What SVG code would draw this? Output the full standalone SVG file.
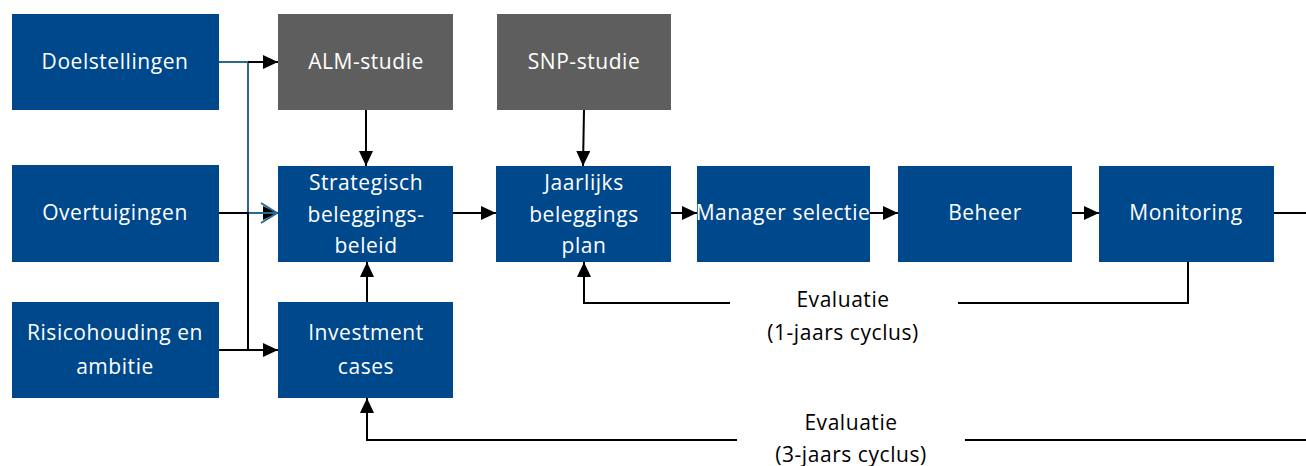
<svg xmlns="http://www.w3.org/2000/svg" width="1306" height="466" viewBox="0 0 1306 466">
<style>
.blue{fill:#00488c}
.gray{fill:#5e5e5e}
.t{font-family:"Open Sans","DejaVu Sans",sans-serif;font-size:21px;letter-spacing:0.55px;fill:#ffffff;text-anchor:middle}
.e{font-family:"Open Sans","DejaVu Sans",sans-serif;font-size:21px;letter-spacing:0.55px;fill:#000000;text-anchor:middle}
.c{fill:none;stroke:#000;stroke-width:2}
.ct{fill:none;stroke:#2b6a8a;stroke-width:2}
</style>
<defs>
<marker id="ah" markerUnits="userSpaceOnUse" markerWidth="16" markerHeight="16" refX="15" refY="7" orient="auto">
<path d="M0,0 L15,7 L0,14 z" fill="#000"/>
</marker>
<marker id="ao" markerUnits="userSpaceOnUse" markerWidth="20" markerHeight="24" refX="17" refY="11" orient="auto">
<path d="M1,1 L17,11 L1,21" fill="none" stroke="#2b6a8a" stroke-width="2"/>
</marker>
</defs>
<g id="connectors">
<path class="ct" d="M219,62 H248 V213 H277" />
<path class="c" d="M248,62 H278" marker-end="url(#ah)"/>
<path class="c" d="M219,213 H278" marker-end="url(#ah)"/>
<path class="ct" d="M249,213 H277" marker-end="url(#ao)"/>
<path class="c" d="M248,214 V350" />
<path class="c" d="M219,350 H278" marker-end="url(#ah)"/>
<path class="c" d="M366,110 V166" marker-end="url(#ah)"/>
<path class="c" d="M584,110 L583,166" marker-end="url(#ah)"/>
<path class="c" d="M367,302 V262" marker-end="url(#ah)"/>
<path class="c" d="M453,213 H496" marker-end="url(#ah)"/>
<path class="c" d="M671,213 H697" marker-end="url(#ah)"/>
<path class="c" d="M870,213 H898" marker-end="url(#ah)"/>
<path class="c" d="M1072,213 H1099" marker-end="url(#ah)"/>
<path class="c" d="M1274,213 H1306"/>
<path class="c" d="M1188,262 V303 H958"/>
<path class="c" d="M730,303 H584 V262" marker-end="url(#ah)"/>
<path class="c" d="M1306,440 H965"/>
<path class="c" d="M737,440 H367 V398" marker-end="url(#ah)"/>
</g>
<g id="doelstellingen"><rect class="blue" x="12" y="14" width="207" height="96"/><text class="t" x="115" y="69">Doelstellingen</text></g>
<g id="alm"><rect class="gray" x="278" y="14" width="175" height="96"/><text class="t" x="366" y="69">ALM-studie</text></g>
<g id="snp"><rect class="gray" x="497" y="14" width="174" height="96"/><text class="t" x="584" y="69">SNP-studie</text></g>
<g id="overtuigingen"><rect class="blue" x="12" y="165" width="207" height="97"/><text class="t" x="115" y="220">Overtuigingen</text></g>
<g id="strategisch"><rect class="blue" x="278" y="166" width="175" height="96"/><text class="t" x="366" y="190">Strategisch</text><text class="t" x="366" y="222">beleggings-</text><text class="t" x="366" y="253">beleid</text></g>
<g id="risicohouding"><rect class="blue" x="12" y="302" width="207" height="96"/><text class="t" x="115" y="340">Risicohouding en</text><text class="t" x="115" y="374">ambitie</text></g>
<g id="investment"><rect class="blue" x="278" y="302" width="175" height="96"/><text class="t" x="366" y="340">Investment</text><text class="t" x="366" y="374">cases</text></g>
<g id="jaarlijks"><rect class="blue" x="496" y="166" width="175" height="96"/><text class="t" x="584" y="190">Jaarlijks</text><text class="t" x="584" y="222">beleggings</text><text class="t" x="584" y="253">plan</text></g>
<g id="manager"><rect class="blue" x="697" y="166" width="173" height="96"/><text class="t" x="783" y="220">Manager selectie</text></g>
<g id="beheer"><rect class="blue" x="898" y="166" width="174" height="96"/><text class="t" x="985" y="220">Beheer</text></g>
<g id="monitoring"><rect class="blue" x="1099" y="166" width="175" height="96"/><text class="t" x="1186" y="220">Monitoring</text></g>
<g id="eval1"><text class="e" x="843" y="307">Evaluatie</text><text class="e" x="843" y="340">(1-jaars cyclus)</text></g>
<g id="eval3"><text class="e" x="851" y="430">Evaluatie</text><text class="e" x="851" y="462">(3-jaars cyclus)</text></g>
</svg>
